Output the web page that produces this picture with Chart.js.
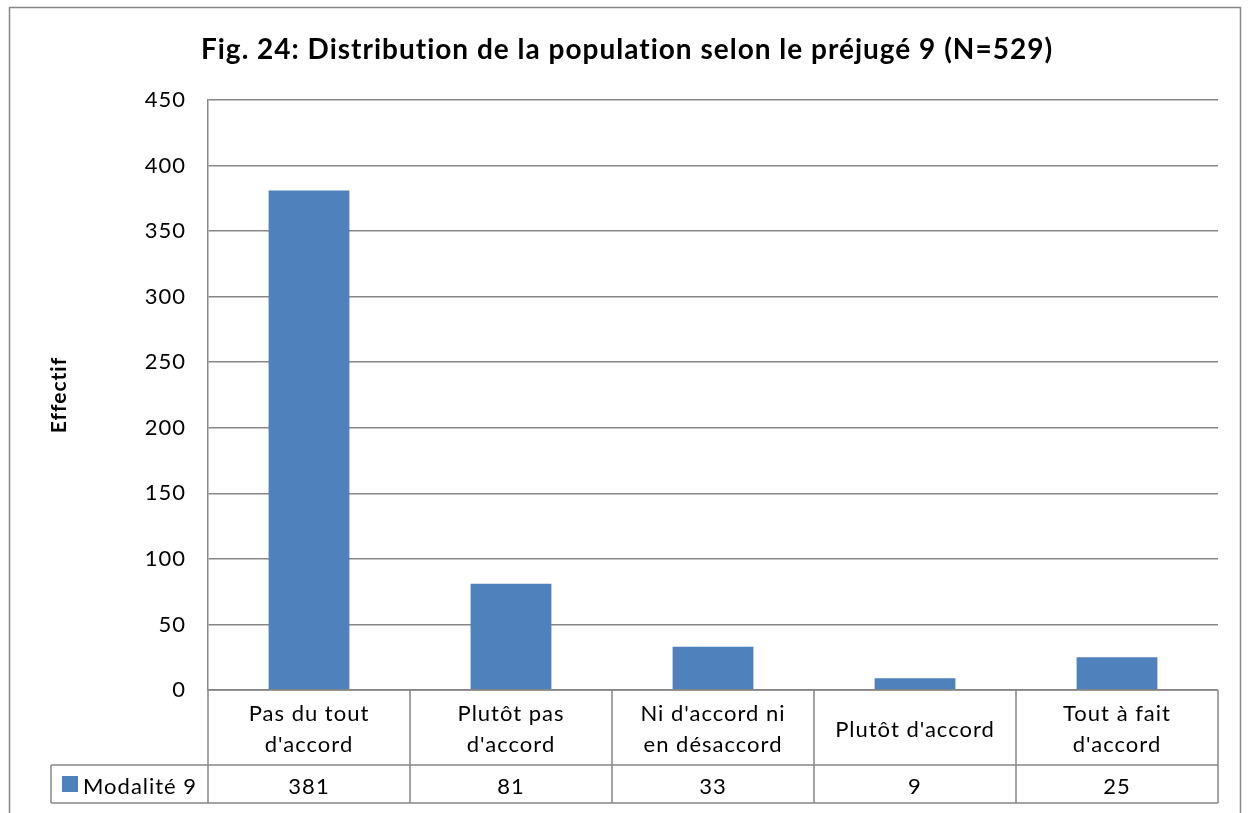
<!DOCTYPE html>
<html>
<head>
<meta charset="utf-8">
<script src="https://cdn.jsdelivr.net/npm/chart.js@4.4.1/dist/chart.umd.min.js"></script>
<style>
html,body{margin:0;padding:0;background:#fff;}
#wrap{position:relative;width:1248px;height:813px;}
</style>
</head>
<body>
<div id="wrap"><canvas id="c" width="1248" height="813"></canvas></div>
<script>
const categories = [["Pas du tout","d'accord"],["Plutôt pas","d'accord"],["Ni d'accord ni","en désaccord"],["Plutôt d'accord"],["Tout à fait","d'accord"]];
const seriesName = "Modalité 9";
const values = [381, 81, 33, 9, 25];
const yTicks = [0, 50, 100, 150, 200, 250, 300, 350, 400, 450];
const titleText = "Fig. 24: Distribution de la population selon le préjugé 9 (N=529)";
const yTitle = "Effectif";

const FONT = "Lato, 'Open Sans', sans-serif";
const LINE = "#878787";
const BAR = "#4F81BD";

const spacingPlugin = {
  id: 'spacingPlugin',
  beforeDraw(chart) { chart.ctx.letterSpacing = '1px'; }
};

const tablePlugin = {
  id: 'tablePlugin',
  afterDraw(chart) {
    const ctx = chart.ctx;
    const x = chart.scales.x;
    const area = chart.chartArea;
    const n = categories.length;
    const cw = (area.right - area.left) / n;
    const top = area.bottom;
    const row1 = top + 75;
    const row2 = row1 + 38;
    const legLeft = 51;
    ctx.save();
    ctx.letterSpacing = '1px';
    ctx.strokeStyle = LINE;
    ctx.lineWidth = 1.5;
    ctx.strokeRect(9.5, 7.5, 1231, 830);
    ctx.beginPath();
    ctx.moveTo(area.left, top); ctx.lineTo(area.right, top);
    ctx.moveTo(legLeft, row1); ctx.lineTo(area.right, row1);
    ctx.moveTo(legLeft, row2); ctx.lineTo(area.right, row2);
    for (let i = 0; i <= n; i++) {
      const xx = Math.round(area.left + i * cw);
      ctx.moveTo(xx, top); ctx.lineTo(xx, row2);
    }
    ctx.moveTo(legLeft, row1); ctx.lineTo(legLeft, row2);
    ctx.stroke();
    ctx.fillStyle = "#000";
    ctx.font = "22px " + FONT;
    ctx.textAlign = "center";
    ctx.textBaseline = "middle";
    for (let i = 0; i < n; i++) {
      const cx = x.getPixelForValue(i);
      const lines = categories[i];
      const mid = (top + row1) / 2 + 2;
      const lh = 31;
      lines.forEach((t, j) => {
        const yy = mid + (j - (lines.length - 1) / 2) * lh;
        ctx.fillText(t, cx, yy);
      });
      ctx.fillText(String(values[i]), cx, (row1 + row2) / 2 + 3);
    }
    ctx.fillStyle = BAR;
    ctx.fillRect(62, row1 + 11, 16, 16);
    ctx.fillStyle = "#000";
    ctx.textAlign = "left";
    ctx.fillText(seriesName, 83, (row1 + row2) / 2 + 3);
    ctx.restore();
  }
};

new Chart(document.getElementById('c'), {
  type: 'bar',
  data: {
    labels: categories,
    datasets: [{
      label: seriesName,
      data: values,
      backgroundColor: BAR,
      borderWidth: 0,
      barPercentage: 0.4,
      categoryPercentage: 1.0
    }]
  },
  options: {
    responsive: false,
    animation: false,
    layout: { padding: { top: 0, right: 30, bottom: 123, left: 36 } },
    plugins: {
      legend: { display: false },
      tooltip: { enabled: false },
      title: {
        display: true,
        text: titleText,
        color: '#000',
        font: { family: FONT, size: 28, weight: 'bold' },
        padding: { top: 33, bottom: 33.4 }
      }
    },
    scales: {
      x: { display: false },
      y: {
        min: 0, max: 450,
        afterBuildTicks(scale) { scale.ticks = yTicks.map(v => ({ value: v })); },
        afterFit(scale) { scale.width = 172; },
        border: { display: true, color: LINE, width: 1.5 },
        grid: { color: LINE, lineWidth: 1.5, drawTicks: false },
        ticks: { color: '#000', font: { family: FONT, size: 22 }, padding: 22 },
        title: {
          display: true, text: yTitle, color: '#000',
          font: { family: FONT, size: 21, weight: 'bold' },
          padding: { top: 11, bottom: 0 }
        }
      }
    }
  },
  plugins: [spacingPlugin, tablePlugin]
});
</script>
</body>
</html>
